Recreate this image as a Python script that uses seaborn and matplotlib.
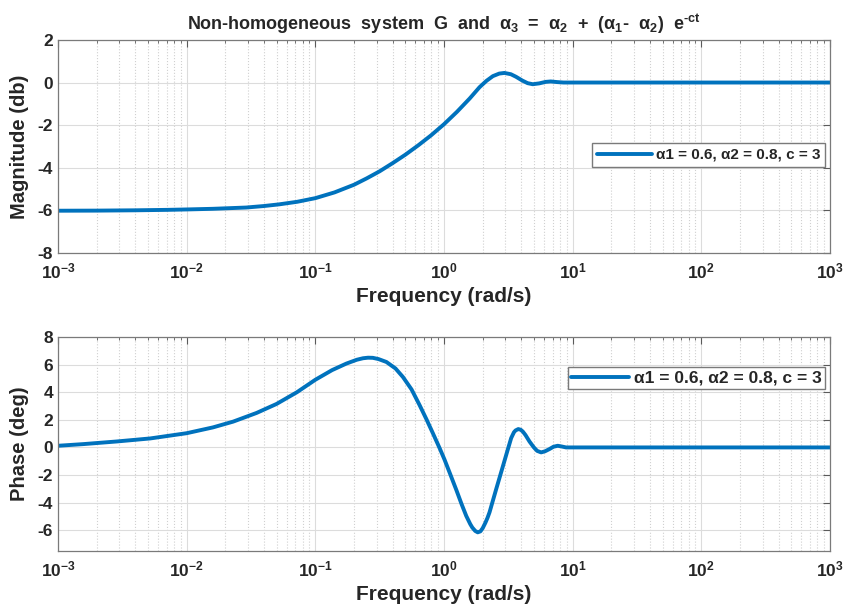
import numpy as np
import pandas as pd
import matplotlib
matplotlib.use("Agg")
import matplotlib.pyplot as plt
from matplotlib.ticker import FixedLocator, NullFormatter
import seaborn as sns

# values
mag_freq = [0.001, 0.002, 0.004, 0.007, 0.01, 0.016, 0.029, 0.0398, 0.0525, 0.0724,
            0.1, 0.141, 0.2, 0.251, 0.316, 0.398, 0.501, 0.631, 0.794, 1.0, 1.26,
            1.585, 1.89, 2.14, 2.4, 2.69, 2.95, 3.31, 3.63, 4.07, 4.47, 4.9,
            5.5, 6.17, 6.76, 7.6, 8.5, 10, 100, 1000]
mag_db = [-6.02, -6.015, -6.0, -5.98, -5.96, -5.93, -5.87, -5.8, -5.72, -5.6,
          -5.43, -5.16, -4.8, -4.5, -4.17, -3.79, -3.39, -2.95, -2.48, -1.96, -1.38,
          -0.75, -0.22, 0.08, 0.3, 0.42, 0.45, 0.39, 0.27, 0.09, -0.03, -0.08,
          -0.04, 0.03, 0.05, 0.02, 0.0, 0.0, 0.0, 0.0]

ph_freq = [0.001, 0.00157, 0.00285, 0.0052, 0.01, 0.016, 0.023, 0.035, 0.05, 0.072,
           0.1, 0.135, 0.174, 0.21, 0.235, 0.257, 0.28, 0.31, 0.357, 0.42, 0.48,
           0.56, 0.646, 0.73, 0.82, 0.925, 1.01, 1.12, 1.25, 1.37, 1.49, 1.6, 1.66,
           1.75, 1.83, 1.92, 2.0, 2.1, 2.18, 2.26, 2.55, 2.87, 3.1, 3.33, 3.5, 3.6,
           3.78, 3.95, 4.1, 4.3, 4.62, 5.0, 5.3, 5.69, 6.1, 6.6, 7.1, 7.66, 8.2, 8.9,
           10, 100, 1000]
ph_deg = [0.12, 0.24, 0.43, 0.65, 1.03, 1.45, 1.87, 2.5, 3.15, 4.0,
          4.9, 5.6, 6.07, 6.35, 6.46, 6.5, 6.49, 6.4, 6.19, 5.72, 5.1,
          4.2, 3.07, 2.05, 1.03, -0.05, -0.88, -1.95, -3.1, -4.1, -4.96, -5.55, -5.8,
          -6.05, -6.15, -6.08, -5.85, -5.45, -5.1, -4.7, -3.0, -1.37, -0.3, 0.68, 1.1, 1.23,
          1.33, 1.28, 1.15, 0.9, 0.43, 0.0, -0.25, -0.36, -0.28, -0.12, 0.05, 0.12, 0.07, 0.0,
          0.0, 0.0, 0.0]

legend_label = "\u03b11 = 0.6, \u03b12 = 0.8, c = 3"
title = (r"Non-homogeneous  system  G  and  $\alpha_3$  =  $\alpha_2$  +  "
         r"($\alpha_1$-  $\alpha_2$)  e$^{\text{-ct}}$")

sns.set_theme(style="whitegrid")
plt.rcParams['font.family'] = ['Liberation Sans', 'DejaVu Sans']
plt.rcParams['font.weight'] = 'bold'
plt.rcParams['axes.unicode_minus'] = False
plt.rcParams['mathtext.fontset'] = 'custom'
plt.rcParams['mathtext.rm'] = 'Liberation Sans:bold'
plt.rcParams['mathtext.it'] = 'Liberation Sans:bold'
plt.rcParams['mathtext.bf'] = 'Liberation Sans:bold'
plt.rcParams['mathtext.default'] = 'rm'

line_color = "#0072BD"
dfm = pd.DataFrame({"f": mag_freq, "v": mag_db})
dfp = pd.DataFrame({"f": ph_freq, "v": ph_deg})

fig = plt.figure(figsize=(8.45, 6.05), dpi=100)
ax1 = fig.add_axes([0.0686, 0.582, 0.9136, 0.352])
ax2 = fig.add_axes([0.0686, 0.0893, 0.9136, 0.3537])

major_x = [1e-3, 1e-2, 1e-1, 1e0, 1e1, 1e2, 1e3]
minor_x = [m * d for d in major_x[:-1] for m in range(2, 10)]


def style_axes(ax, ylim, yticks, ylabel):
    ax.set_xscale('log')
    ax.set_xlim(1e-3, 1e3)
    ax.set_ylim(*ylim)
    ax.set_yticks(yticks)
    ax.xaxis.set_major_locator(FixedLocator(major_x))
    ax.xaxis.set_minor_locator(FixedLocator(minor_x))
    ax.xaxis.set_minor_formatter(NullFormatter())
    ax.set_facecolor('white')
    ax.grid(True, which='major', color='#dcdcdc', linestyle='-', linewidth=0.8)
    ax.grid(True, which='minor', axis='x', color='#d0d0d0', linestyle=':', linewidth=0.8)
    for s in ax.spines.values():
        s.set_color('#7a7a7a')
        s.set_linewidth(0.9)
    ax.tick_params(which='both', direction='in', top=True, right=True,
                   color='#5a5a5a', labelsize=12.5, labelcolor='#262626')
    ax.tick_params(which='major', length=5, width=0.8)
    ax.tick_params(which='minor', length=2.5, width=0.6)
    ax.tick_params(axis='x', pad=6)
    ax.set_xlabel("Frequency (rad/s)", fontsize=15, fontweight='bold', color='#262626')
    ax.set_ylabel(ylabel, fontsize=14.5, fontweight='bold', color='#262626', labelpad=6)


sns.lineplot(data=dfm, x="f", y="v", ax=ax1, color=line_color, linewidth=2.8,
             label=legend_label)
style_axes(ax1, (-8, 2), [-8, -6, -4, -2, 0, 2], "Magnitude (db)")
ax1.set_title(title, fontsize=13, fontweight='bold', color='#262626', pad=7)
ax1.legend(loc='center right', bbox_to_anchor=(0.998, 0.46),
           frameon=True, fancybox=False, edgecolor='#7a7a7a', framealpha=1,
           handlelength=3.6, borderpad=0.3, handletextpad=0.3, borderaxespad=0.2,
           prop={'weight': 'bold', 'size': 11})

sns.lineplot(data=dfp, x="f", y="v", ax=ax2, color=line_color, linewidth=2.8,
             label=legend_label)
style_axes(ax2, (-7.5, 8), [-6, -4, -2, 0, 2, 4, 6, 8], "Phase (deg)")
ax2.legend(loc='upper right', bbox_to_anchor=(0.998, 0.875),
           frameon=True, fancybox=False, edgecolor='#7a7a7a', framealpha=1,
           handlelength=3.3, borderpad=0.2, handletextpad=0.3, borderaxespad=0.2,
           prop={'weight': 'bold', 'size': 12.5})

fig.savefig("out.png", dpi=100)
plt.close(fig)
